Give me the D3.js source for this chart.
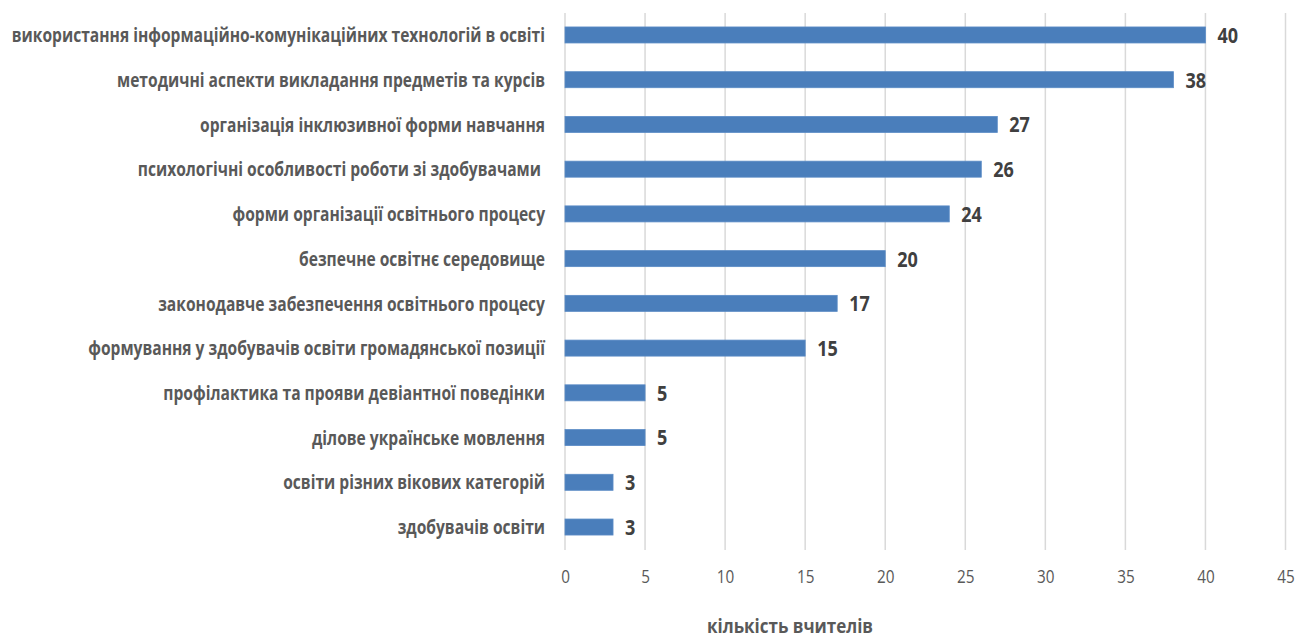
<!DOCTYPE html>
<html><head><meta charset="utf-8">
<script src="https://cdn.jsdelivr.net/npm/d3@7"></script>
<style>body{margin:0;background:#fff}svg{display:block}</style>
</head><body><svg id="c" width="1298" height="639"></svg>
<script>
const categories = [
  "використання інформаційно-комунікаційних технологій в освіті",
  "методичні аспекти викладання предметів та курсів",
  "організація інклюзивної форми навчання",
  "психологічні особливості роботи зі здобувачами ",
  "форми організації освітнього процесу",
  "безпечне освітнє середовище",
  "законодавче забезпечення освітнього процесу",
  "формування у здобувачів освіти громадянської позиції",
  "профілактика та прояви девіантної поведінки",
  "ділове українське мовлення",
  "освіти різних вікових категорій",
  "здобувачів освіти"
];
const values = [40, 38, 27, 26, 24, 20, 17, 15, 5, 5, 3, 3];
const xTicks = [0, 5, 10, 15, 20, 25, 30, 35, 40, 45];
const axisTitle = "кількість вчителів";

const svg = d3.select("#c");
const x = d3.scaleLinear().domain([0, 45]).range([565, 1285.5]);
const y = d3.scaleBand().domain(categories).range([12.6, 549.4]).paddingInner(0.642).paddingOuter(0.321);

// gridlines
svg.append("g").selectAll("line").data(xTicks).join("line")
  .attr("x1", d => x(d)).attr("x2", d => x(d))
  .attr("y1", 13).attr("y2", 550)
  .attr("stroke", "#d9d9d9").attr("stroke-width", 1.5);

// bars
svg.append("g").selectAll("rect").data(values).join("rect")
  .attr("x", x(0)).attr("y", (d, i) => y(categories[i]))
  .attr("width", d => x(d) - x(0)).attr("height", y.bandwidth())
  .attr("fill", "#4a7ebb").attr("stroke", "#5b8cc6").attr("stroke-width", 0.8);

// category labels
const SX = 0.78;
const lab = svg.append("g").attr("transform", `translate(545,0) scale(${SX},1)`);
lab.selectAll("text").data(categories).join("text")
  .attr("x", 0).attr("y", d => y(d) + y.bandwidth() / 2)
  .attr("dy", "0.36em").attr("text-anchor", "end")
  .attr("font-family", "'Open Sans', sans-serif").attr("font-weight", "bold")
  .attr("font-size", 20).attr("fill", "#595959")
  .style("white-space", "pre")
  .text(d => d);

// value labels
svg.append("g").selectAll("g").data(values).join("g")
  .attr("transform", (d, i) => `translate(${x(d) + 12},${y(categories[i]) + y.bandwidth() / 2}) scale(0.82,1)`)
  .append("text").attr("dy", "0.36em")
  .attr("font-family", "'Open Sans', sans-serif").attr("font-weight", "bold")
  .attr("font-size", 22).attr("fill", "#404040")
  .text(d => d);

// x axis tick labels
const axis = d3.axisBottom(x).tickValues(xTicks).tickSize(0).tickPadding(0);
const ag = svg.append("g").attr("transform", "translate(0,570)").call(axis);
ag.select(".domain").remove();
ag.selectAll("text").attr("font-family", "'Open Sans', sans-serif").attr("font-size", 18)
  .attr("fill", "#595959").attr("transform", "scale(0.85,1)");

// axis title
svg.append("g").attr("transform", "translate(790,626) scale(0.85,1)")
  .append("text").attr("text-anchor", "middle").attr("dy", "0.36em")
  .attr("font-family", "'Open Sans', sans-serif").attr("font-weight", "bold")
  .attr("font-size", 20).attr("fill", "#595959").text(axisTitle);
</script></body></html>
